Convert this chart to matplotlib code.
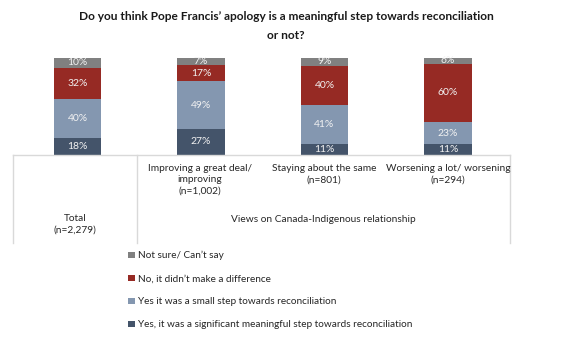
import matplotlib
matplotlib.use("Agg")
import matplotlib.pyplot as plt
from matplotlib.lines import Line2D
from matplotlib.patches import Patch

plt.rcParams['font.family'] = ['Lato', 'DejaVu Sans']

categories = ["Total", "Improving", "Staying", "Worsening"]
series_names = [
    "Yes, it was a significant meaningful step towards reconciliation",
    "Yes it was a small step towards reconciliation",
    "No, it didn\u2019t make a difference",
    "Not sure/ Can\u2019t say",
]
significant = [18, 27, 11, 11]
small_step = [40, 49, 41, 23]
no_diff = [32, 17, 40, 60]
not_sure = [10, 7, 9, 6]
colors = ["#44546A", "#8497B0", "#962A24", "#808080"]

cat_labels = ["Improving a great deal/\nimproving\n(n=1,002)",
              "Staying about the same\n(n=801)",
              "Worsening a lot/ worsening\n(n=294)"]
total_label = "Total\n(n=2,279)"
group_label = "Views on Canada-Indigenous relationship"
title = "Do you think Pope Francis\u2019 apology is a meaningful step towards reconciliation\nor not?"

W, H = 572, 337
fig = plt.figure(figsize=(W / 100, H / 100), dpi=100)

def fx(px):
    return px / W

def fy(py):
    return 1 - py / H

ax = fig.add_axes([fx(15.75), fy(155), fx(509.75) - fx(15.75), fy(58) - fy(155)])
ax.set_xlim(-0.5, 3.5)
ax.set_ylim(0, 100)
ax.axis("off")

x = list(range(len(categories)))
bottoms = [0] * len(categories)
handles = []
for vals, col, name in zip([significant, small_step, no_diff, not_sure], colors, series_names):
    ax.bar(x, vals, bottom=bottoms, width=0.385, color=col, edgecolor="none")
    for xi, v, b in zip(x, vals, bottoms):
        ax.text(xi, b + v / 2, f"{v}%", ha="center", va="center", color="#F2F2F2", fontsize=7.5)
    bottoms = [b + v for b, v in zip(bottoms, vals)]
    handles.append(Patch(facecolor=col, label=name))

fig.text(0.5, fy(11), title, ha="center", va="top", fontsize=8.6, fontweight="bold", color="#1a1a1a",
         linespacing=1.85, multialignment="center")

# table grid lines
lc = "#D9D9D9"
fig.add_artist(Line2D([fx(13), fx(510)], [fy(155), fy(155)], color=lc, lw=1))
for xp in [13, 137, 510]:
    fig.add_artist(Line2D([fx(xp), fx(xp)], [fy(155), fy(243)], color=lc, lw=1))

cat_x = [200, 324, 448]
for cx, lab in zip(cat_x, cat_labels):
    fig.text(fx(cx), fy(164), lab, ha="center", va="top", fontsize=7.3, color="#262626",
             linespacing=1.35, multialignment="center")
fig.text(fx(75), fy(214), total_label, ha="center", va="top", fontsize=7.3, color="#262626",
         linespacing=1.35, multialignment="center")
fig.text(fx(323), fy(219), group_label, ha="center", va="center", fontsize=7.3, color="#262626")

leg = fig.legend(handles=handles[::-1], loc="upper left", bbox_to_anchor=(fx(128), fy(251)),
                 frameon=False, fontsize=7.2, handlelength=0.65, handleheight=0.65, handletextpad=0.35,
                 labelspacing=1.4, borderaxespad=0, borderpad=0)
for t in leg.get_texts():
    t.set_color("#262626")

fig.savefig("out.png", dpi=100)
